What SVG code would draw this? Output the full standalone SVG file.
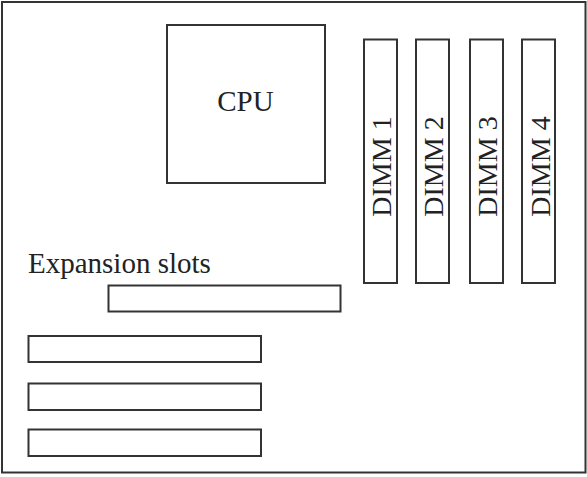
<svg xmlns="http://www.w3.org/2000/svg" width="587" height="477" viewBox="0 0 587 477">
<style>
.b{fill:#fff;stroke:#333;stroke-width:2}
.t{font-family:"Liberation Serif","Times New Roman",serif;fill:#222}
</style>
<rect x="0" y="0" width="587" height="477" fill="#fff"/>
<g id="board"><rect class="b" x="2" y="2" width="583.5" height="470.5"/></g>
<g id="cpu"><rect class="b" x="167" y="25" width="158" height="158"/><text class="t" x="245.5" y="110.5" font-size="29" text-anchor="middle">CPU</text></g>
<g id="dimm1"><rect class="b" x="364" y="39.5" width="33" height="243.5"/><text class="t" font-size="28" text-anchor="middle" transform="translate(391,166.5) rotate(-90)">DIMM 1</text></g>
<g id="dimm2"><rect class="b" x="416" y="39.5" width="33" height="243.5"/><text class="t" font-size="28" text-anchor="middle" transform="translate(443,166.5) rotate(-90)">DIMM 2</text></g>
<g id="dimm3"><rect class="b" x="470" y="39.5" width="33" height="243.5"/><text class="t" font-size="28" text-anchor="middle" transform="translate(497,166.5) rotate(-90)">DIMM 3</text></g>
<g id="dimm4"><rect class="b" x="522" y="39.5" width="33" height="243.5"/><text class="t" font-size="28" text-anchor="middle" transform="translate(549.5,166.5) rotate(-90)">DIMM 4</text></g>
<g id="label"><text class="t" x="28" y="273" font-size="29">Expansion slots</text></g>
<g id="slot1"><rect class="b" x="108.5" y="285.5" width="232" height="26"/></g>
<g id="slot2"><rect class="b" x="28.5" y="336" width="232.5" height="26"/></g>
<g id="slot3"><rect class="b" x="28.5" y="383.5" width="232.5" height="26.5"/></g>
<g id="slot4"><rect class="b" x="28.5" y="429.5" width="232.5" height="26.5"/></g>
<g id="connectors"/>
</svg>
